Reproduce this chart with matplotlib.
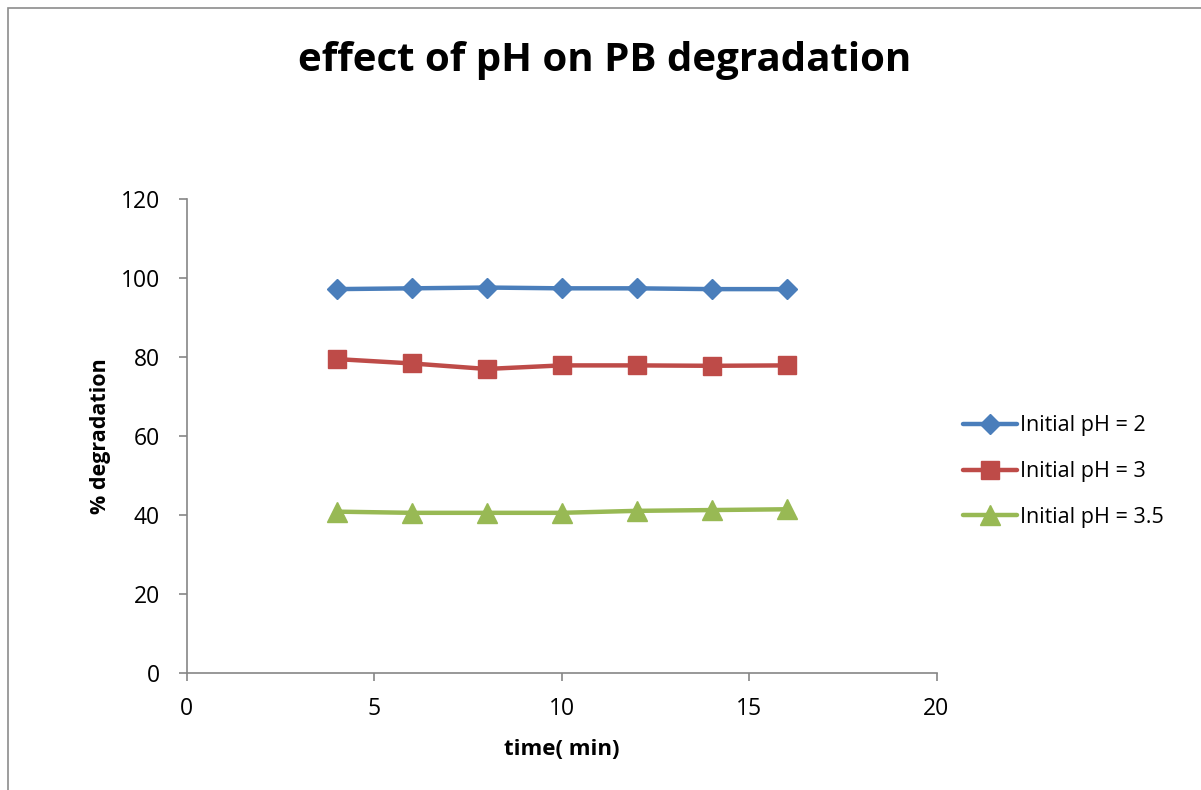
import matplotlib
matplotlib.use("Agg")
import matplotlib.pyplot as plt
from matplotlib.patches import Rectangle

plt.rcParams['font.family'] = ['Open Sans', 'DejaVu Sans']

time_min = [4, 6, 8, 10, 12, 14, 16]
ph2 = [97.2, 97.4, 97.6, 97.4, 97.4, 97.2, 97.2]
ph3 = [79.5, 78.4, 77.0, 77.9, 77.9, 77.8, 77.9]
ph35 = [40.9, 40.6, 40.6, 40.6, 41.1, 41.3, 41.5]

series_labels = ["Initial pH = 2", "Initial pH = 3", "Initial pH = 3.5"]
x_ticks = [0, 5, 10, 15, 20]
y_ticks = [0, 20, 40, 60, 80, 100, 120]

fig = plt.figure(figsize=(12.01, 7.90), dpi=100)
fig.patch.set_facecolor('white')
# outer chart frame
fig.add_artist(Rectangle((8 / 1201, -0.05), 1.2, 1 - 8 / 790 + 0.05,
                         transform=fig.transFigure, fill=False,
                         edgecolor='#8c8c8c', linewidth=1.2))

ax = fig.add_axes([186.5 / 1201, 1 - 673.3 / 790, 750 / 1201, (673.3 - 199) / 790])

ax.plot(time_min, ph2, color='#4A7EBB', lw=3.2, marker='D', ms=10.5,
        label=series_labels[0], solid_capstyle='round')
ax.plot(time_min, ph3, color='#BE4B48', lw=3.2, marker='s', ms=13.5,
        label=series_labels[1], solid_capstyle='round')
ax.plot(time_min, ph35, color='#98B954', lw=3.2, marker='^', ms=14.5,
        label=series_labels[2], solid_capstyle='round')

ax.set_xlim(0, 20)
ax.set_ylim(0, 120)
ax.set_xticks(x_ticks)
ax.set_yticks(y_ticks)
for side in ('top', 'right'):
    ax.spines[side].set_visible(False)
for side in ('left', 'bottom'):
    ax.spines[side].set_color('#868686')
    ax.spines[side].set_linewidth(1.2)
ax.tick_params(axis='both', colors='#868686', length=6, width=1.2,
               labelcolor='black', labelsize=16.5)
ax.tick_params(axis='x', pad=11)
ax.tick_params(axis='y', pad=13)

ax.set_xlabel("time( min)", fontsize=16, fontweight='bold', labelpad=13)
ax.set_ylabel("% degradation", fontsize=15.5, fontweight='bold', labelpad=7)

fig.text(605 / 1201, 1 - 61 / 790, "effect of pH on PB degradation",
         ha='center', va='center', fontsize=29, fontweight='bold')

ax.legend(loc='center left', bbox_to_anchor=(1.01, 0.425), frameon=False,
          fontsize=15.5, handlelength=2.5, handletextpad=0.15, labelspacing=1.15,
          markerscale=0.95)

fig.savefig("out.png", dpi=100, facecolor='white')
